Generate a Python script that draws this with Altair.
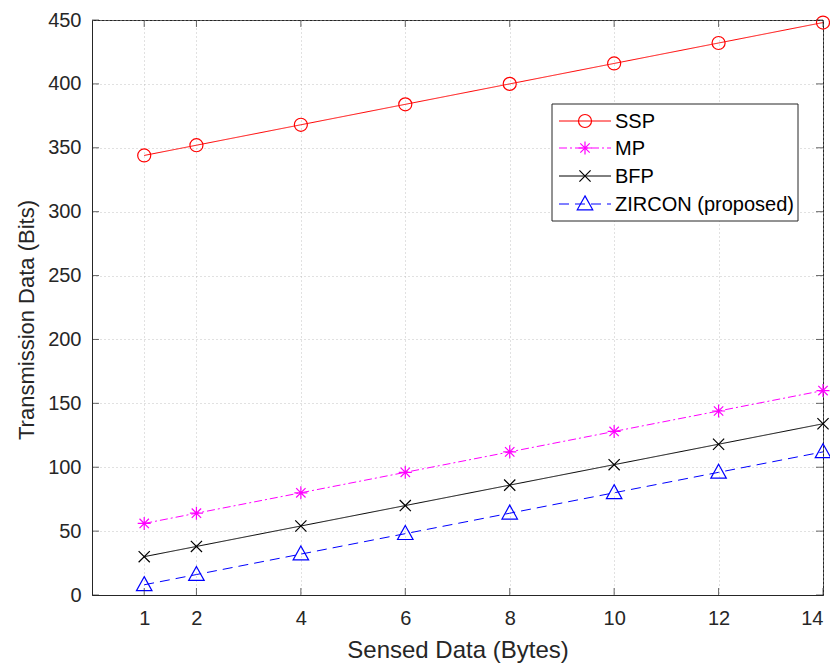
import altair as alt
import pandas as pd

x_vals = [1, 2, 4, 6, 8, 10, 12, 14]
ssp = [344, 352, 368, 384, 400, 416, 432, 448]
mp = [56, 64, 80, 96, 112, 128, 144, 160]
bfp = [30, 38, 54, 70, 86, 102, 118, 134]
zircon = [8, 16, 32, 48, 64, 80, 96, 112]

series_names = ["SSP", "MP", "BFP", "ZIRCON (proposed)"]
series_vals = [ssp, mp, bfp, zircon]
colors = ["#FF0000", "#FF00FF", "#000000", "#0000FF"]
dashes = [[1, 0], [8, 3, 2, 3], [1, 0], [10, 6]]

x_ticks = [1, 2, 4, 6, 8, 10, 12, 14]
y_ticks = list(range(0, 451, 50))

CIRCLE = "circle"
ASTER = "M-1,0L1,0M0,-1L0,1M-0.72,-0.72L0.72,0.72M-0.72,0.72L0.72,-0.72"
XMARK = "M-1,-1L1,1M-1,1L1,-1"
TRI = "M0,-1.05L1,0.75L-1,0.75Z"
shapes = [CIRCLE, ASTER, XMARK, TRI]
sizes = [170, 170, 125, 240]

W, H = 731, 575
FONT = "Liberation Sans"

xs = alt.Scale(domain=[0, 14], nice=False)
ys = alt.Scale(domain=[0, 450], nice=False)

layers = []
for name, vals, col, dash, shp, sz in zip(series_names, series_vals, colors, dashes, shapes, sizes):
    df = pd.DataFrame({"x": x_vals, "y": vals, "s": name})
    base = alt.Chart(df)
    layers.append(base.mark_line(color=col, strokeWidth=1, strokeDash=dash).encode(
        x=alt.X("x:Q", scale=xs, axis=alt.Axis(values=x_ticks, title="Sensed Data (Bytes)")),
        y=alt.Y("y:Q", scale=ys, axis=alt.Axis(values=y_ticks, title="Transmission Data (Bits)",
                                                 titleY=H / 2 + 12)),
    ))
    layers.append(base.mark_point(shape=shp, size=sz, filled=False, color=col, strokeWidth=1.2, opacity=1).encode(
        x=alt.X("x:Q", scale=xs), y=alt.Y("y:Q", scale=ys)))

# inward ticks on all four sides
tick_len = 7
xt = alt.Chart(pd.DataFrame({"x": x_ticks}))
layers.append(xt.mark_tick(orient="vertical", size=tick_len, thickness=1, color="#262626").encode(
    x=alt.X("x:Q", scale=xs), y=alt.value(H - tick_len / 2)))
layers.append(xt.mark_tick(orient="vertical", size=tick_len, thickness=1, color="#262626").encode(
    x=alt.X("x:Q", scale=xs), y=alt.value(tick_len / 2)))
yt = alt.Chart(pd.DataFrame({"y": y_ticks}))
layers.append(yt.mark_tick(orient="horizontal", size=tick_len, thickness=1, color="#262626").encode(
    y=alt.Y("y:Q", scale=ys), x=alt.value(tick_len / 2)))
layers.append(yt.mark_tick(orient="horizontal", size=tick_len, thickness=1, color="#262626").encode(
    y=alt.Y("y:Q", scale=ys), x=alt.value(W - tick_len / 2)))

# legend
OX, OY = 92, 20
LX0, LY0, LX1, LY1 = 552 - OX, 104 - OY, 798 - OX, 221 - OY
layers.append(alt.Chart(pd.DataFrame({"a": [0]})).mark_rect(
    fill="white", stroke="#262626", strokeWidth=1).encode(
    x=alt.value(LX0), x2=alt.value(LX1), y=alt.value(LY0), y2=alt.value(LY1)))
row_y = [121, 148, 176, 204]
for i, (name, col, dash, shp, sz) in enumerate(zip(series_names, colors, dashes, shapes, sizes)):
    yy = row_y[i] - OY
    d = alt.Chart(pd.DataFrame({"s": [name]}))
    layers.append(d.mark_rule(color=col, strokeWidth=1, strokeDash=dash).encode(
        x=alt.value(559 - OX), x2=alt.value(611 - OX), y=alt.value(yy)))
    layers.append(d.mark_point(shape=shp, size=sz, filled=False, color=col, strokeWidth=1.2, opacity=1).encode(
        x=alt.value(585 - OX), y=alt.value(yy)))
    layers.append(d.mark_text(align="left", baseline="middle", font=FONT, fontSize=20, color="#000000").encode(
        x=alt.value(615 - OX), y=alt.value(yy + 1), text="s:N"))

chart = alt.layer(*layers).properties(
    width=W, height=H,
    autosize=alt.AutoSizeParams(type="none"),
    padding={"left": 84, "top": 12, "right": 7, "bottom": 75},
).configure_view(
    stroke="#262626", strokeWidth=1
).configure_axis(
    labelFont=FONT, titleFont=FONT, labelFontSize=20,
    labelColor="#262626", titleColor="#262626", titleFontWeight="normal",
    domainColor="#262626", ticks=False, grid=True, gridColor="#b4b4b4",
    gridDash=[1, 3], gridWidth=1, gridOpacity=0.8,
).configure_axisX(
    labelPadding=13, titlePadding=10, titleFontSize=24,
).configure_axisY(
    labelPadding=11, titlePadding=9, titleFontSize=22,
)

chart.save("out.html", embed_options={"renderer": "svg", "actions": False})
